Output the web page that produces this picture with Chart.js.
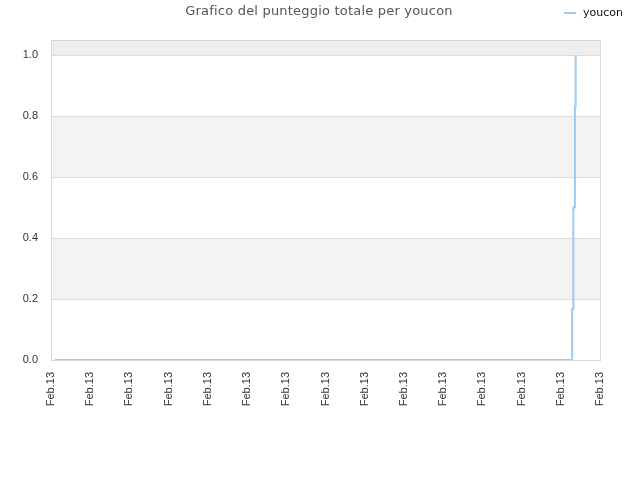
<!DOCTYPE html>
<html>
<head>
<meta charset="utf-8">
<script src="https://cdn.jsdelivr.net/npm/chart.js@4"></script>
<style>
    body { margin: 0; background: #fff; }
    #wrap { width: 640px; height: 480px; }
</style>
</head>
<body>
<div id="wrap"><canvas id="chart" width="640" height="480"></canvas></div>
<script>
const titleText = "Grafico del punteggio totale per youcon";
const seriesName = "youcon";
const tickLabel = "Feb.13";
const xTicks = [0, 1, 2, 3, 4, 5, 6, 7, 8, 9, 10, 11, 12, 13, 14];
const yTicks = [0, 0.2, 0.4, 0.6, 0.8, 1.0];
const pointX = [0.1, 13.29, 13.32, 13.36, 13.38];
const pointY = [0, 0.167, 0.5, 0.833, 1.0];

const lineColor = "#9fcaf4";

const bands = {
    id: "bands",
    beforeDatasetsDraw(chart) {
        const { ctx, chartArea, scales: { y } } = chart;
        ctx.save();
        const fill = (a, b, c) => {
            const top = y.getPixelForValue(b);
            const bot = y.getPixelForValue(a);
            ctx.fillStyle = c;
            ctx.fillRect(chartArea.left, top, chartArea.width, bot - top);
        };
        fill(0.2, 0.4, "#f3f3f3");
        fill(0.6, 0.8, "#f3f3f3");
        fill(1.0, 1.05, "#eeeeee");
        // grid lines over the bands
        ctx.strokeStyle = "#dddddd";
        ctx.lineWidth = 1;
        yTicks.slice(1).forEach((v) => {
            const py = Math.round(y.getPixelForValue(v)) + 0.5;
            ctx.beginPath();
            ctx.moveTo(chartArea.left, py);
            ctx.lineTo(chartArea.right, py);
            ctx.stroke();
        });
        ctx.restore();
    },
    afterDraw(chart) {
        const { ctx, chartArea } = chart;
        ctx.save();
        ctx.strokeStyle = "#d8d8d8";
        ctx.lineWidth = 1;
        ctx.strokeRect(chartArea.left + 0.5, chartArea.top + 0.5, chartArea.width, chartArea.height);

        // Title
        ctx.fillStyle = "#555";
        ctx.font = "13px 'DejaVu Sans'";
        ctx.letterSpacing = "0.2px";
        ctx.textAlign = "center";
        ctx.textBaseline = "middle";
        ctx.fillText(titleText, 319, 12);
        ctx.letterSpacing = "0px";

        // Legend
        ctx.strokeStyle = lineColor;
        ctx.lineWidth = 2;
        ctx.beginPath();
        ctx.moveTo(564, 13);
        ctx.lineTo(576, 13);
        ctx.stroke();
        ctx.fillStyle = "#111";
        ctx.font = "11px 'DejaVu Sans'";
        ctx.textAlign = "left";
        ctx.fillText(seriesName, 583, 13);
        ctx.restore();
    },
};

new Chart(document.getElementById("chart"), {
    type: "line",
    data: {
        datasets: [
            {
                label: seriesName,
                data: pointX.map((x, i) => ({ x: x, y: pointY[i] })),
                borderColor: lineColor,
                borderWidth: 2,
                pointRadius: 0,
                stepped: "before",
                fill: false,
            },
        ],
    },
    options: {
        responsive: false,
        animation: false,
        layout: { padding: { left: 0, right: 40, top: 40, bottom: 0 } },
        plugins: {
            legend: { display: false },
            title: { display: false },
            tooltip: { enabled: false },
        },
        scales: {
            x: {
                type: "linear",
                min: xTicks[0],
                max: xTicks[xTicks.length - 1],
                afterBuildTicks: (scale) => {
                    scale.ticks = xTicks.map((v) => ({ value: v }));
                },
                afterFit: (scale) => {
                    scale.height = 120;
                },
                grid: { display: false },
                border: { display: false },
                ticks: {
                    autoSkip: false,
                    minRotation: 90,
                    maxRotation: 90,
                    padding: 4,
                    color: "#333",
                    font: { family: "Liberation Sans", size: 11 },
                    callback: () => tickLabel,
                },
            },
            y: {
                min: 0,
                max: 1.05,
                afterBuildTicks: (scale) => {
                    scale.ticks = yTicks.map((v) => ({ value: v }));
                },
                afterFit: (scale) => {
                    scale.width = 51;
                },
                grid: { display: false },
                border: { display: false },
                ticks: {
                    padding: 5,
                    color: "#333",
                    font: { family: "Liberation Sans", size: 11 },
                    callback: (v) => Number(v).toFixed(1),
                },
            },
        },
    },
    plugins: [bands],
});
</script>
</body>
</html>
